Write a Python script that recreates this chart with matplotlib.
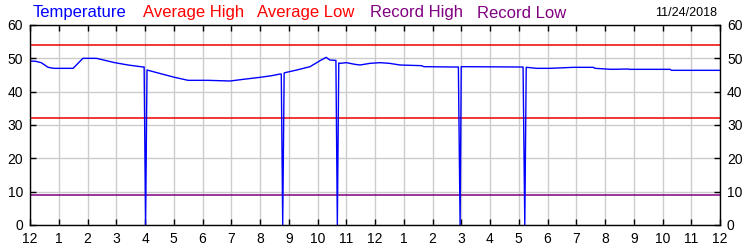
import matplotlib.pyplot as plt

# Temperature trace (hour of day since midnight, deg F)
hours = [0.0, 0.2, 0.39, 0.63, 0.83, 1.5, 1.84, 2.31, 2.95, 3.41, 3.93, 3.97, 4.02, 4.07,
         4.5, 5.03, 5.5, 6.19, 6.96, 7.42, 8.0, 8.41, 8.7, 8.74, 8.79, 8.84, 8.87,
         9.28, 9.74, 10.09, 10.3, 10.43, 10.6, 10.64, 10.69, 10.74, 10.78, 11.01,
         11.3, 11.48, 11.83, 12.17, 12.5, 12.87, 13.62, 13.7, 14.71, 14.9, 14.96,
         15.0, 15.02, 17.04, 17.15, 17.21, 17.26, 17.28, 17.62, 18.09, 18.9, 19.6,
         19.65, 20.23, 20.8, 20.85, 22.26, 22.32, 24.0]
temps = [49.2, 49.1, 48.7, 47.3, 47.0, 47.0, 50.0, 50.0, 48.7, 48.0, 47.4, 47.4, 0.0, 46.5,
         45.5, 44.3, 43.4, 43.4, 43.2, 43.7, 44.3, 44.8, 45.3, 45.3, 0.0, 45.6, 45.7,
         46.5, 47.5, 49.3, 50.3, 49.5, 49.4, 49.4, 0.0, 48.6, 48.5, 48.7,
         48.2, 48.0, 48.5, 48.7, 48.5, 48.0, 47.8, 47.5, 47.4, 47.4, 0.0,
         47.5, 47.5, 47.4, 47.4, 0.0, 47.3, 47.3, 47.0, 47.0, 47.3, 47.3,
         47.0, 46.7, 46.8, 46.7, 46.7, 46.4, 46.4]

avg_high = 54
avg_low = 32
record_low = 9

hour_labels = ['12'] + [str(h) for h in range(1, 12)] + ['12'] + [str(h) for h in range(1, 12)] + ['12']
legend_items = [("Temperature", "#0000ff"), ("Average High", "#ff0000"), ("Average Low", "#ff0000"),
                ("Record High", "#800080"), ("Record Low", "#800080")]
legend_x = [33, 143, 257, 370, 477]
date_text = "11/24/2018"

plt.rcParams['font.family'] = ['Liberation Sans', 'DejaVu Sans']

fig = plt.figure(figsize=(7.5, 2.5), dpi=100)
ax = fig.add_axes([30 / 750, 0.1, 690 / 750, 0.8])

ax.axhline(avg_high, color='#ee0000', lw=1.1)
ax.axhline(avg_low, color='#ee0000', lw=1.1)
ax.axhline(record_low, color='#800080', lw=1.1)
ax.plot(hours, temps, color='#0000ff', lw=1.0)

ax.set_xlim(0, 24)
ax.set_ylim(0, 60)
ax.set_xticks(range(25))
ax.set_xticklabels(hour_labels)
ax.set_yticks(range(0, 61, 10))
ax.grid(True, color='#cccccc', lw=1)
ax.set_axisbelow(True)
ax.tick_params(direction='in', length=4, width=1, top=True, right=True,
               labelright=True, labelsize=10)
ax.tick_params(axis='x', pad=5)
ax.tick_params(axis='y', pad=5)
for s in ax.spines.values():
    s.set_linewidth(1)

for (txt, col), x in zip(legend_items, legend_x):
    fig.text(x / 750, 1 - 13 / 250, txt, color=col, fontsize=12, va='center', ha='left')
fig.text(717 / 750, 1 - 13 / 250, date_text, color='black', fontsize=9, va='center', ha='right')

fig.savefig('out.png', dpi=100)
